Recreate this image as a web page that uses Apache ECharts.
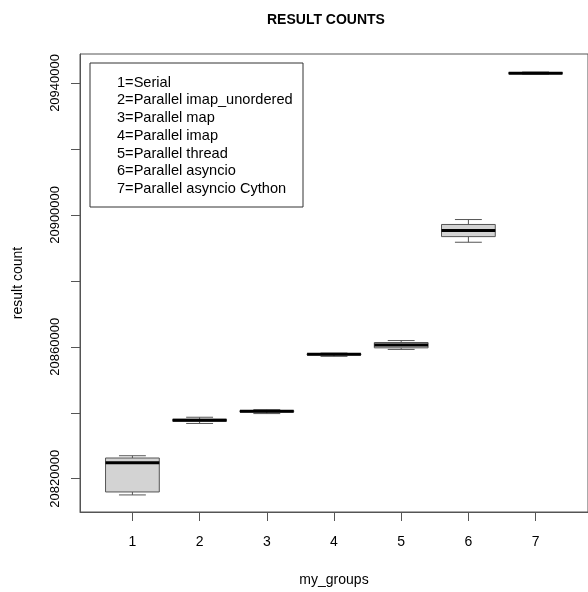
<!DOCTYPE html>
<html>
<head>
<meta charset="utf-8">
<script src="https://cdn.jsdelivr.net/npm/echarts@6/dist/echarts.min.js"></script>
<style>
html,body{margin:0;padding:0;background:#fff;}
#chart{width:588px;height:592px;}
</style>
</head>
<body>
<div id="chart"></div>
<script>
// ---- data ----
const groups = [1, 2, 3, 4, 5, 6, 7];
const lowWhisker  = [20815092, 20836759, 20839752, 20857109, 20859204, 20891704, 20942700];
const q1          = [20815990, 20837447, 20840231, 20857529, 20859683, 20893410, 20942820];
const median      = [20824878, 20837746, 20840440, 20857708, 20860581, 20895296, 20942939];
const q3          = [20826284, 20838045, 20840650, 20857888, 20861299, 20897091, 20943149];
const highWhisker = [20826973, 20838644, 20840948, 20858097, 20861897, 20898588, 20943299];
const yTicks = [20820000, 20840000, 20860000, 20880000, 20900000, 20920000, 20940000];
const yLabels = [20820000, 20860000, 20900000, 20940000];
const legendLines = [
  '1=Serial',
  '2=Parallel imap_unordered',
  '3=Parallel map',
  '4=Parallel imap',
  '5=Parallel thread',
  '6=Parallel asyncio',
  '7=Parallel asyncio Cython'
];

const boxData = groups.map((g, i) => [g, lowWhisker[i], q1[i], median[i], q3[i], highWhisker[i]]);

const FONT = '"Liberation Sans", Arial, Helvetica, sans-serif';
const chart = echarts.init(document.getElementById('chart'), null, {renderer: 'canvas'});

function renderBox(params, api) {
  const x = api.value(0);
  const lo = api.coord([x, api.value(1)]);
  const b1 = api.coord([x, api.value(2)]);
  const md = api.coord([x, api.value(3)]);
  const b3 = api.coord([x, api.value(4)]);
  const hi = api.coord([x, api.value(5)]);
  const halfBox = api.size([0.4, 0])[0];
  const halfCap = api.size([0.2, 0])[0];
  const cx = md[0];
  const edge = '#555';
  return {
    type: 'group',
    children: [
      {type: 'line', shape: {x1: cx, y1: hi[1], x2: cx, y2: b3[1]}, style: {stroke: edge, lineWidth: 1}},
      {type: 'line', shape: {x1: cx, y1: b1[1], x2: cx, y2: lo[1]}, style: {stroke: edge, lineWidth: 1}},
      {type: 'line', shape: {x1: cx - halfCap, y1: hi[1], x2: cx + halfCap, y2: hi[1]}, style: {stroke: edge, lineWidth: 1}},
      {type: 'line', shape: {x1: cx - halfCap, y1: lo[1], x2: cx + halfCap, y2: lo[1]}, style: {stroke: edge, lineWidth: 1}},
      {type: 'rect', shape: {x: cx - halfBox, y: b3[1], width: 2 * halfBox, height: Math.max(b1[1] - b3[1], 0.5)},
        style: {fill: '#d3d3d3', stroke: edge, lineWidth: 1}},
      {type: 'line', shape: {x1: cx - halfBox, y1: md[1], x2: cx + halfBox, y2: md[1]}, style: {stroke: '#000', lineWidth: 3}}
    ]
  };
}

const legendChildren = [
  {type: 'rect', shape: {x: 90, y: 63, width: 213, height: 144}, style: {fill: '#fff', stroke: '#333', lineWidth: 1}}
];
legendLines.forEach((t, i) => {
  legendChildren.push({
    type: 'text', x: 117, y: 82.7 + i * 17.7,
    style: {text: t, fill: '#000', font: '14.6px ' + FONT, textVerticalAlign: 'middle', textAlign: 'left'}
  });
});

chart.setOption({
  animation: false,
  backgroundColor: '#fff',
  title: {
    text: 'RESULT COUNTS', left: 262, top: 8,
    textStyle: {fontFamily: FONT, fontSize: 14, fontWeight: 'bold', color: '#000'}
  },
  grid: {left: 80, top: 54, right: -8, bottom: 73, show: true, borderColor: '#555', borderWidth: 1, backgroundColor: 'transparent'},
  xAxis: {
    type: 'value', min: 0.22, max: 7.78,
    name: 'my_groups', nameLocation: 'middle', nameGap: 61,
    nameTextStyle: {fontFamily: FONT, fontSize: 14, color: '#000'},
    axisLine: {show: true, lineStyle: {color: '#555'}},
    axisTick: {show: true, length: 9, lineStyle: {color: '#555'}, customValues: groups},
    axisLabel: {fontFamily: FONT, fontSize: 14, color: '#000', margin: 23, customValues: groups,
      formatter: v => String(v)},
    splitLine: {show: false}
  },
  yAxis: {
    type: 'value', min: 20809915, max: 20948776,
    name: 'result count', nameLocation: 'middle', nameGap: 55,
    nameTextStyle: {fontFamily: FONT, fontSize: 14, color: '#000'},
    axisLine: {show: true, lineStyle: {color: '#555'}},
    axisTick: {show: true, length: 9, lineStyle: {color: '#555'}, customValues: yTicks},
    axisLabel: {fontFamily: FONT, fontSize: 13, color: '#000', margin: 18, rotate: 90, customValues: yLabels,
      formatter: v => String(v)},
    splitLine: {show: false}
  },
  graphic: [{type: 'group', children: legendChildren}],
  series: [{
    type: 'custom',
    renderItem: renderBox,
    data: boxData,
    encode: {x: 0, y: [1, 2, 3, 4, 5]},
    clip: false
  }]
});
</script>
</body>
</html>
